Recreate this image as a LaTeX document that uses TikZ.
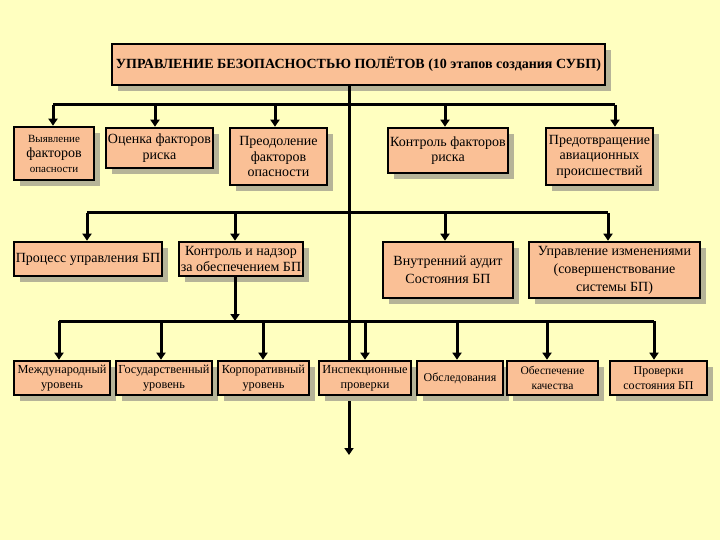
\documentclass[tikz,border=0pt]{standalone}
\usepackage{fontspec}
\setmainfont{Liberation Serif}
\usetikzlibrary{shadows,arrows.meta}
\definecolor{bg}{RGB}{255,255,192}
\definecolor{peach}{RGB}{250,192,150}
\definecolor{shade}{RGB}{182,180,152}
\tikzset{
  box/.style={draw=black, line width=2.6pt, fill=peach, inner sep=0pt, align=center,
    drop shadow={shadow xshift=6pt, shadow yshift=-6pt, fill=shade, opacity=1}},
  conn/.style={line width=3pt},
  arr/.style={conn, -{Triangle[length=7pt,width=9pt]}},
  fa/.style={font=\fontsize{14}{15.5}\selectfont},
  fb/.style={font=\fontsize{14}{18}\selectfont},
  fc/.style={font=\fontsize{12.3}{15}\selectfont},
}
\begin{document}
\begin{tikzpicture}[x=1pt,y=-1pt]
\fill[bg] (0,0) rectangle (720,540);
\useasboundingbox (0,0) rectangle (720,540);
% bus coordinates
\coordinate (t1) at (349,105);
\coordinate (r1a) at (53,105);   \coordinate (r1b) at (155,105); \coordinate (r1c) at (275,105);
\coordinate (r1d) at (445,105);  \coordinate (r1e) at (615,105);
\coordinate (r2a) at (87,213);   \coordinate (r2b) at (235,213); \coordinate (r2c) at (445,213);
\coordinate (r2d) at (608,213);
\coordinate (r3a) at (59,321);   \coordinate (r3b) at (161,321); \coordinate (r3c) at (263,321);
\coordinate (r3d) at (365,321);  \coordinate (r3e) at (457,321); \coordinate (r3f) at (547,321);
\coordinate (r3g) at (654,321);
\coordinate (r3k) at (235,321);
\coordinate (tend) at (349,455);

\node[box, minimum width=493pt, minimum height=41pt, font=\bfseries\fontsize{14}{16}\selectfont] (title) at (358.5,64.5)
  {УПРАВЛЕНИЕ БЕЗОПАСНОСТЬЮ ПОЛЁТОВ (10 этапов создания СУБП)};

% trunk and buses
\draw[arr] (title.south -| t1) -- (tend);
\draw[conn] (r1a) -- (r1e);
\draw[conn] (r2a) -- (r2d);
\draw[conn] (r3a) -- (r3g);

% row 1
\node[box, font=\fontsize{14}{15}\selectfont, minimum width=80pt, minimum height=53pt] (b1) at (54,153.5)
  {{\fontsize{11}{15}\selectfont Выявление}\\факторов\\{\fontsize{11}{15}\selectfont опасности}};
\node[box, fa, minimum width=107pt, minimum height=40pt] (b2) at (159.5,148) {Оценка факторов\\риска};
\node[box, fa, minimum width=97pt, minimum height=57pt] (b3) at (278.5,156.5) {Преодоление\\факторов\\опасности};
\node[box, fa, minimum width=120pt, minimum height=45pt] (b4) at (448,150.5) {Контроль факторов\\риска};
\node[box, fa, minimum width=107pt, minimum height=57pt] (b5) at (599.5,156.5) {Предотвращение\\авиационных\\происшествий};
\foreach \c/\b in {r1a/b1,r1b/b2,r1c/b3,r1d/b4,r1e/b5} \draw[arr] (\c) -- (\c |- \b.north);

% row 2
\node[box, fa, minimum width=148pt, minimum height=34pt] (b6) at (88,259) {Процесс управления БП};
\node[box, fa, minimum width=124pt, minimum height=34pt] (b7) at (241,259) {Контроль и надзор\\за обеспечением БП};
\node[box, fb, minimum width=130pt, minimum height=56pt] (b8) at (448,270) {Внутренний аудит\\Состояния БП};
\node[box, fb, minimum width=171pt, minimum height=56pt] (b9) at (614.5,270) {Управление изменениями\\(совершенствование\\системы БП)};
\foreach \c/\b in {r2a/b6,r2b/b7,r2c/b8,r2d/b9} \draw[arr] (\c) -- (\c |- \b.north);
\draw[arr] (b7.south -| r3k) -- (r3k);

% row 3
\node[box, fc, minimum width=96pt, minimum height=34pt] (b10) at (62,378) {Международный\\уровень};
\node[box, fc, minimum width=96pt, minimum height=34pt] (b11) at (164,378) {Государственный\\уровень};
\node[box, fc, minimum width=91pt, minimum height=34pt] (b12) at (263.5,378) {Корпоративный\\уровень};
\node[box, font=\fontsize{12.3}{15}\selectfont, minimum width=92pt, minimum height=34pt] (b13) at (365,378) {Инспекционные\\проверки};
\node[box, font=\fontsize{12}{15}\selectfont, minimum width=86pt, minimum height=34pt] (b14) at (460,378) {Обследования};
\node[box, font=\fontsize{11.5}{15}\selectfont, minimum width=91pt, minimum height=34pt] (b15) at (552.5,378) {Обеспечение\\качества};
\node[box, font=\fontsize{12}{15}\selectfont, minimum width=97pt, minimum height=34pt] (b16) at (658.5,378) {Проверки\\состояния БП};
\foreach \c/\b in {r3a/b10,r3b/b11,r3c/b12,r3d/b13,r3e/b14,r3f/b15,r3g/b16} \draw[arr] (\c) -- (\c |- \b.north);
\end{tikzpicture}
\end{document}
